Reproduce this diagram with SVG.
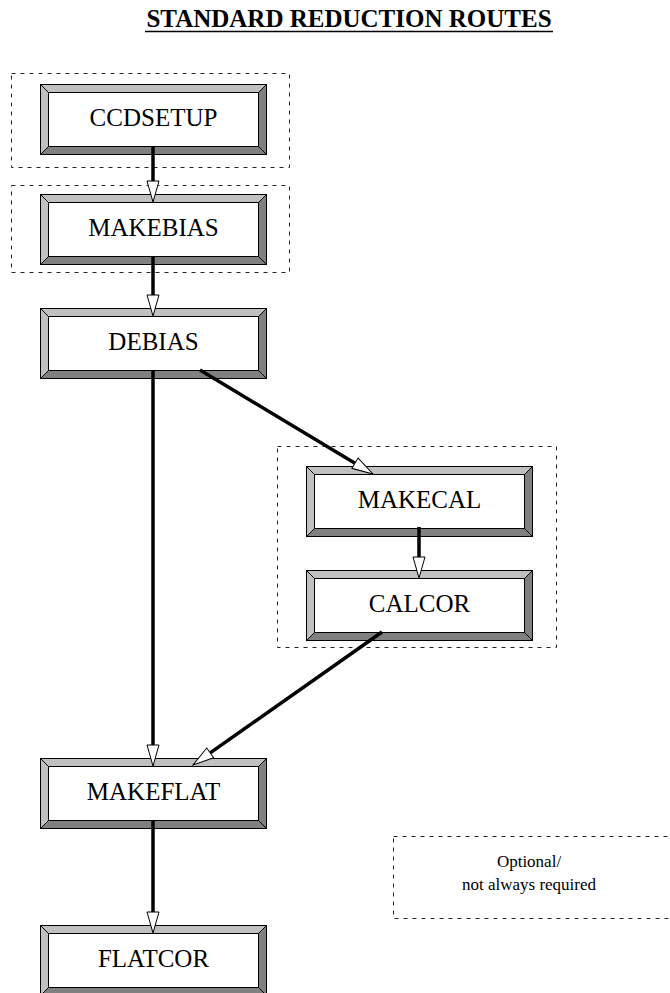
<svg xmlns="http://www.w3.org/2000/svg" xmlns:xlink="http://www.w3.org/1999/xlink" width="670" height="993" viewBox="0 0 670 993">
<style>
.lbl{font-family:"Liberation Serif","Times New Roman",serif;font-size:25px;fill:#000;text-anchor:middle}
.leg{font-family:"Liberation Serif","Times New Roman",serif;font-size:17px;fill:#000;text-anchor:middle}
.title{font-family:"Liberation Serif","Times New Roman",serif;font-size:25px;font-weight:bold;fill:#000;text-anchor:middle}
.dash{fill:none;stroke:#222;stroke-width:1;stroke-dasharray:4 5}
.conn{stroke:#000;stroke-width:3.5;fill:none;marker-end:url(#arr)}
.edge{stroke:#000;stroke-width:1}
</style>
<defs>
<marker id="arr" markerUnits="userSpaceOnUse" markerWidth="24" markerHeight="16" refX="1" refY="7" orient="auto" viewBox="0 0 24 14">
<path d="M1,1 L22,7 L1,13 Z" fill="#fff" stroke="#000" stroke-width="1"/>
</marker>
<g id="bevel">
<rect x="0.5" y="0.5" width="226" height="70" fill="#808080" stroke="#000"/>
<polygon points="0.5,0.5 226.5,0.5 218.5,8.5 8.5,8.5 8.5,62.5 0.5,70.5" fill="#c0c0c0" stroke="#000"/>
<rect x="8.5" y="8.5" width="210" height="54" fill="#fff" stroke="#000"/>
<line class="edge" x1="0.5" y1="0.5" x2="8.5" y2="8.5"/>
<line class="edge" x1="218.5" y1="62.5" x2="226.5" y2="70.5"/>
</g>
</defs>
<rect width="670" height="993" fill="#fff"/>
<g id="title">
<text class="title" x="349" y="27">STANDARD REDUCTION ROUTES</text>
<line x1="145" y1="31.5" x2="553" y2="31.5" stroke="#000" stroke-width="1.5"/>
</g>
<g id="groups">
<rect class="dash" x="11.5" y="73.5" width="278" height="94"/>
<rect class="dash" x="11.5" y="185.5" width="278" height="87"/>
<rect class="dash" x="277.5" y="446.5" width="279" height="201"/>
</g>
<g id="legend">
<rect class="dash" x="393.5" y="836.5" width="290" height="82"/>
<text class="leg" x="529" y="867">Optional/</text>
<text class="leg" x="529" y="890">not always required</text>
</g>
<g id="ccdsetup"><use xlink:href="#bevel" transform="translate(40,84)"/><text class="lbl" x="153.5" y="126">CCDSETUP</text></g>
<g id="makebias"><use xlink:href="#bevel" transform="translate(40,194)"/><text class="lbl" x="153.5" y="236">MAKEBIAS</text></g>
<g id="debias"><use xlink:href="#bevel" transform="translate(40,308)"/><text class="lbl" x="153.5" y="350">DEBIAS</text></g>
<g id="makecal"><use xlink:href="#bevel" transform="translate(306,466)"/><text class="lbl" x="419.5" y="508">MAKECAL</text></g>
<g id="calcor"><use xlink:href="#bevel" transform="translate(306,570)"/><text class="lbl" x="419.5" y="612">CALCOR</text></g>
<g id="makeflat"><use xlink:href="#bevel" transform="translate(40,758)"/><text class="lbl" x="153.5" y="800">MAKEFLAT</text></g>
<g id="flatcor"><use xlink:href="#bevel" transform="translate(40,925)"/><text class="lbl" x="153.5" y="967">FLATCOR</text></g>
<g id="connectors">
<line class="conn" x1="153" y1="146" x2="153" y2="181"/>
<line class="conn" x1="153" y1="256" x2="153" y2="295"/>
<line class="conn" x1="153" y1="370" x2="153" y2="745"/>
<line class="conn" x1="200" y1="370" x2="355" y2="463.2"/>
<line class="conn" x1="419" y1="527" x2="419" y2="557"/>
<line class="conn" x1="382" y1="632" x2="210.2" y2="752.9"/>
<line class="conn" x1="153" y1="820" x2="153" y2="912"/>
</g>
</svg>
